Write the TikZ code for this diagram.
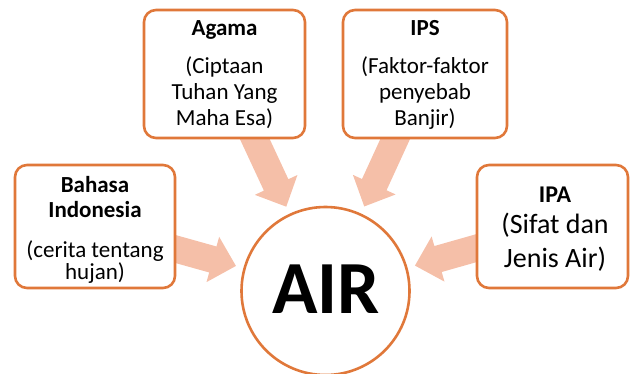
\documentclass[tikz,border=0pt]{standalone}
\usepackage{fontspec}
\setmainfont{Carlito}
\usetikzlibrary{calc,backgrounds}
\definecolor{edge}{HTML}{E0783A}
\definecolor{arrowfill}{HTML}{F5BFA8}
\newcommand{\myarrow}[2]{%
  \path ($(#2)!24pt!(#1)$) coordinate (#2b);
  \fill[arrowfill] ($(#1)!13.5pt!90:(#2)$) -- ($(#2b)!13.5pt!90:(#2)$)
    -- ($(#2b)!23.5pt!90:(#2)$) -- (#2) -- ($(#2b)!23.5pt!-90:(#2)$)
    -- ($(#2b)!13.5pt!-90:(#2)$) -- ($(#1)!13.5pt!-90:(#2)$) -- cycle;}
\tikzset{
  box/.style={draw=edge, line width=2.6pt, rounded corners=12pt, fill=white, inner sep=0pt},
  ttl/.style={anchor=base, inner sep=0pt, font=\fontsize{23}{27}\selectfont\bfseries},
  txt/.style={anchor=base, inner sep=0pt, font=\fontsize{23}{27}\selectfont},
}
\begin{document}
\begin{tikzpicture}[x=1pt,y=-1pt]
\useasboundingbox (0,0) rectangle (631,374);
% boxes
\node[box, minimum width=160pt, minimum height=123pt] (bi) at (95,226.5) {};
\node[box, minimum width=161pt, minimum height=128pt] (ag) at (224.5,74) {};
\node[box, minimum width=164pt, minimum height=128pt] (ips) at (425,74) {};
\node[box, minimum width=151pt, minimum height=123pt] (ipa) at (552.5,226.5) {};
\node[draw=edge, line width=2.6pt, circle, fill=white, minimum size=168pt, inner sep=0pt] (air) at (325.5,291) {};
% arrows
\path ($(air.center)!93pt!(bi.center)$) coordinate (tbi);
\path ($(air.center)!93pt!(ag.center)$) coordinate (tag);
\path ($(air.center)!93pt!(ips.center)$) coordinate (tips);
\path ($(air.center)!93pt!(ipa.center)$) coordinate (tipa);
\begin{scope}[on background layer]
\myarrow{bi.center}{tbi}
\myarrow{ag.center}{tag}
\myarrow{ips.center}{tips}
\myarrow{ipa.center}{tipa}
\end{scope}
% texts
\node[anchor=base, inner sep=0pt, font=\fontsize{75}{80}\selectfont\bfseries] (airt) at (326,313) {AIR};
\node[ttl] (bi1) at (95,192) {Bahasa};
\node[ttl] (bi2) at (95,217) {Indonesia};
\node[txt] (bi3) at (95,257) {(cerita tentang};
\node[txt] (bi4) at (95,279) {hujan)};
\node[ttl] (ag1) at (224.5,36) {Agama};
\node[txt] (ag2) at (224.5,74) {(Ciptaan};
\node[txt] (ag3) at (224.5,100) {Tuhan Yang};
\node[txt] (ag4) at (224.5,126) {Maha Esa)};
\node[ttl] (ips1) at (425,36) {IPS};
\node[txt] (ips2) at (425,74) {(Faktor-faktor};
\node[txt] (ips3) at (425,100) {penyebab};
\node[txt] (ips4) at (425,126) {Banjir)};
\node[ttl, font=\fontsize{24}{28}\selectfont\bfseries] (ipa1) at (555,202) {IPA};
\node[txt, font=\fontsize{28}{32}\selectfont] (ipa2) at (555,233) {(Sifat dan};
\node[txt, font=\fontsize{28}{32}\selectfont] (ipa3) at (555,267) {Jenis Air)};
\end{tikzpicture}
\end{document}
